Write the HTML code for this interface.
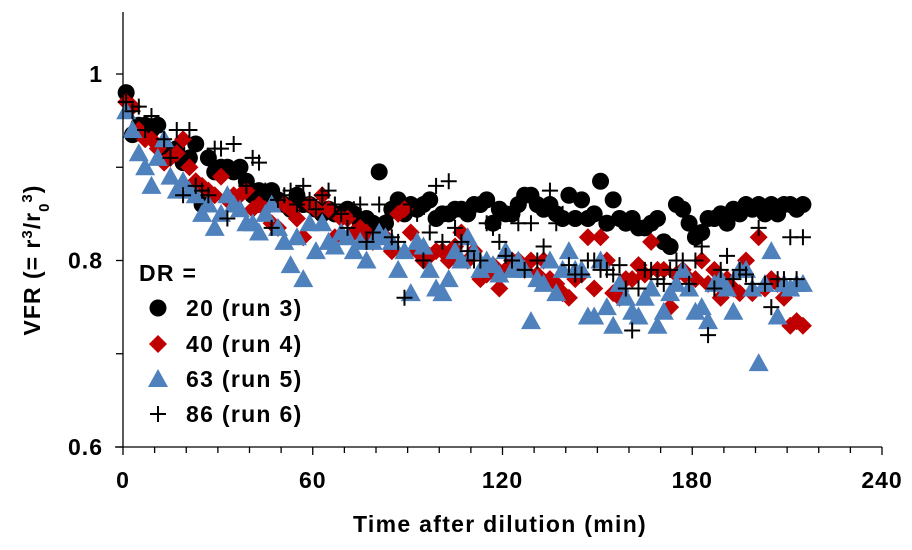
<!DOCTYPE html>
<html><head><meta charset="utf-8"><style>
html,body{margin:0;padding:0;background:#fff;}
svg{display:block;font-family:"Liberation Sans",Arial,sans-serif;}
</style></head><body>
<svg id="chart" width="912" height="550" viewBox="0 0 912 550" xmlns="http://www.w3.org/2000/svg">
<g id="grid"></g>
<g id="marks"></g>
<g id="axes"></g>
</svg>
<script>
const times = [1,3,5,7,9,11,13,15,17,19,21,23,25,27,29,31,33,35,37,39,41,43,45,47,49,51,53,55,57,59,61,63,65,67,69,71,73,75,77,79,81,83,85,87,89,91,93,95,97,99,101,103,105,107,109,111,113,115,117,119,121,123,125,127,129,131,133,135,137,139,141,143,145,147,149,151,153,155,157,159,161,163,165,167,169,171,173,175,177,179,181,183,185,187,189,191,193,195,197,199,201,203,205,207,209,211,213,215];
const run3 = [0.98,0.935,0.945,0.945,0.94,0.945,0.92,0.915,0.92,0.905,0.91,0.925,0.86,0.91,0.895,0.9,0.9,0.895,0.9,0.885,0.87,0.875,0.87,0.875,0.865,0.86,0.855,0.87,0.86,0.86,0.855,0.85,0.855,0.85,0.85,0.855,0.85,0.84,0.845,0.84,0.895,0.84,0.855,0.865,0.85,0.86,0.855,0.86,0.865,0.845,0.85,0.85,0.855,0.855,0.85,0.86,0.86,0.865,0.84,0.855,0.85,0.85,0.86,0.87,0.87,0.86,0.855,0.86,0.85,0.845,0.87,0.845,0.865,0.845,0.85,0.885,0.84,0.865,0.845,0.84,0.845,0.835,0.835,0.84,0.845,0.82,0.815,0.86,0.855,0.84,0.825,0.83,0.845,0.845,0.85,0.84,0.855,0.85,0.86,0.855,0.86,0.85,0.86,0.85,0.86,0.86,0.855,0.86];
const run4 = [0.97,0.965,0.94,0.93,0.93,0.92,0.905,0.91,0.915,0.93,0.9,0.885,0.88,0.875,0.87,0.89,0.865,0.87,0.87,0.875,0.855,0.86,0.855,0.84,0.835,0.86,0.855,0.845,0.825,0.86,0.855,0.87,0.855,0.825,0.845,0.845,0.83,0.835,0.83,0.82,0.825,0.825,0.81,0.85,0.855,0.83,0.81,0.8,0.805,0.81,0.81,0.8,0.815,0.83,0.8,0.81,0.78,0.785,0.795,0.77,0.79,0.8,0.8,0.79,0.8,0.785,0.8,0.78,0.775,0.765,0.76,0.78,0.785,0.825,0.77,0.825,0.8,0.765,0.76,0.78,0.78,0.795,0.785,0.82,0.79,0.79,0.75,0.785,0.79,0.78,0.78,0.8,0.775,0.79,0.76,0.78,0.77,0.765,0.8,0.765,0.825,0.77,0.78,0.775,0.76,0.73,0.735,0.73];
const run5 = [0.96,0.94,0.915,0.9,0.88,0.91,0.93,0.89,0.875,0.885,0.875,0.87,0.85,0.86,0.835,0.85,0.87,0.86,0.855,0.84,0.84,0.83,0.85,0.86,0.835,0.82,0.795,0.825,0.78,0.84,0.81,0.84,0.82,0.815,0.83,0.825,0.81,0.82,0.8,0.82,0.83,0.825,0.82,0.79,0.81,0.765,0.82,0.815,0.79,0.77,0.765,0.78,0.81,0.8,0.825,0.81,0.79,0.8,0.795,0.785,0.81,0.79,0.8,0.79,0.735,0.78,0.775,0.8,0.765,0.79,0.81,0.79,0.79,0.74,0.74,0.8,0.75,0.73,0.775,0.76,0.745,0.74,0.76,0.77,0.73,0.745,0.765,0.775,0.79,0.77,0.745,0.75,0.735,0.775,0.78,0.77,0.745,0.79,0.79,0.77,0.69,0.775,0.81,0.74,0.775,0.77,0.775,0.775];
const run6 = [0.97,0.96,0.965,0.94,0.955,0.945,0.93,0.91,0.94,0.87,0.94,0.88,0.875,0.87,0.92,0.92,0.845,0.925,0.9,0.88,0.91,0.905,0.875,0.835,0.865,0.87,0.875,0.86,0.88,0.865,0.855,0.87,0.875,0.86,0.85,0.835,0.855,0.86,0.82,0.83,0.86,0.845,0.825,0.82,0.76,0.86,0.85,0.8,0.83,0.88,0.82,0.885,0.835,0.82,0.81,0.8,0.8,0.84,0.835,0.82,0.805,0.8,0.84,0.79,0.84,0.8,0.815,0.875,0.84,0.85,0.795,0.785,0.785,0.8,0.8,0.79,0.79,0.785,0.795,0.77,0.725,0.77,0.79,0.79,0.78,0.775,0.79,0.8,0.8,0.775,0.8,0.815,0.72,0.77,0.79,0.805,0.78,0.79,0.785,0.775,0.835,0.775,0.75,0.78,0.78,0.825,0.78,0.825];
const xTicks = [0,60,120,180,240];
const yTicks = [0.6,0.8,1];

const NS = "http://www.w3.org/2000/svg";
const X0 = 123, X1 = 882, Y0 = 447, Y1 = 74;
function sx(t){ return X0 + (t/240)*(X1-X0); }
function sy(v){ return Y0 - (v-0.6)/0.4*(Y0-Y1); }
function mk(tag, attrs, parent){
  const e = document.createElementNS(NS, tag);
  for (const k in attrs) e.setAttribute(k, attrs[k]);
  parent.appendChild(e);
  return e;
}
const marks = document.getElementById('marks');
const axes = document.getElementById('axes');

function circle(g, x, y){ return mk('circle',{cx:x,cy:y,r:8.5,fill:'#000'},g); }
function diamond(g, x, y){ const d=9; return mk('polygon',{points:`${x},${y-d} ${x+d},${y} ${x},${y+d} ${x-d},${y}`,fill:'#c00000'},g); }
function tri(g, x, y){ return mk('polygon',{points:`${x},${y-10} ${x+10},${y+8} ${x-10},${y+8}`,fill:'#4f81bd'},g); }
function plus(g, x, y){ return mk('path',{d:`M${x-8},${y}H${x+8}M${x},${y-8}V${y+8}`,stroke:'#000','stroke-width':2,fill:'none'},g); }

const series = [
  {name:'series-run3', vals:run3, fn:circle},
  {name:'series-run4', vals:run4, fn:diamond},
  {name:'series-run5', vals:run5, fn:tri},
  {name:'series-run6', vals:run6, fn:plus}
];
series.forEach(s=>{
  const g = mk('g',{},marks);
  
  
  const n = Math.min(times.length, s.vals.length);
  for (let i=0;i<n;i++){
    const el = s.fn(g, sx(times[i]), sy(s.vals[i]));
    
    
  }
});

const yAxis = mk('line',{x1:X0,y1:12,x2:X0,y2:Y0,stroke:'#000','stroke-width':1.3},axes);


const xAxis = mk('line',{x1:X0-8,y1:Y0,x2:X1,y2:Y0,stroke:'#000','stroke-width':1.3},axes);


for (let v=0.6; v<=1.06; v+=0.1){
  mk('line',{x1:X0-7,y1:sy(v),x2:X0,y2:sy(v),stroke:'#000','stroke-width':1.3},axes);
}
for (let t=0; t<=240; t+=10){
  mk('line',{x1:sx(t),y1:Y0,x2:sx(t),y2:Y0+(t%60===0?8:6),stroke:'#000','stroke-width':1.3},axes);
}
yTicks.forEach(v=>{
  const tx = mk('text',{x:X0-20,y:sy(v)+8,'text-anchor':'end','font-size':23,'font-weight':'bold','letter-spacing':1},axes);
  tx.textContent = v===1?'1':v.toFixed(1);
  
  
});
xTicks.forEach(t=>{
  const tx = mk('text',{x:sx(t),y:488,'text-anchor':'middle','font-size':23,'font-weight':'bold','letter-spacing':1},axes);
  tx.textContent = t;
  
  
});
</script>
<svg style="position:absolute;left:0;top:0" width="912" height="550" xmlns="http://www.w3.org/2000/svg">
<text x="500" y="532" text-anchor="middle" font-family="Liberation Sans, sans-serif" font-size="23" font-weight="bold" letter-spacing="1.3">Time after dilution (min)</text>
<text transform="translate(40,260) rotate(-90)" text-anchor="middle" font-family="Liberation Sans, sans-serif" font-size="23" font-weight="bold" letter-spacing="1">VFR (= r<tspan baseline-shift="super" font-size="15">3</tspan>/r<tspan baseline-shift="sub" font-size="15">0</tspan><tspan baseline-shift="super" font-size="15">3</tspan>)</text>
<g font-family="Liberation Sans, sans-serif" font-size="23" font-weight="bold" letter-spacing="1.3">
<text x="139" y="281">DR =</text>
<g><circle cx="158" cy="308" r="8.5" fill="#000"/><text x="186" y="316">20 (run 3)</text></g>
<g><polygon points="158,335 167,344 158,353 149,344" fill="#c00000"/><text x="186" y="352">40 (run 4)</text></g>
<g><polygon points="158,369 168,387 148,387" fill="#4f81bd"/><text x="186" y="387">63 (run 5)</text></g>
<g><path d="M150,414H166M158,406V422" stroke="#000" stroke-width="2"/><text x="186" y="422">86 (run 6)</text></g>
</g>
</svg>
</body></html>
